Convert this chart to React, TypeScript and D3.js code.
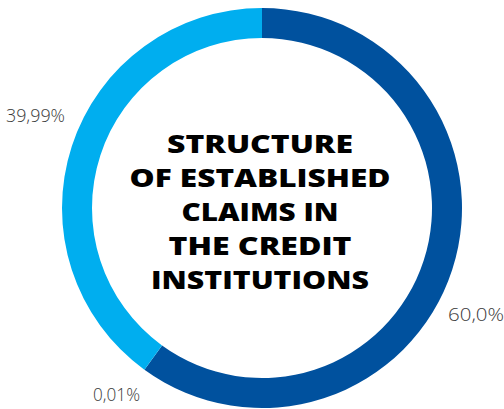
import React from "react";
import * as d3 from "d3";

const categories = ["60,0%", "0,01%", "39,99%"];
const values = [60.0, 0.01, 39.99];
const colors = ["#00519e", "#0a8fd8", "#00aeef"];
const titleLines = ["STRUCTURE", "OF ESTABLISHED", "CLAIMS IN", "THE CREDIT", "INSTITUTIONS"];
const titleWidths = [186, 261, 157, 183, 218];
const labelPos = [
  { x: 448, y: 321, w: 56 },
  { x: 93, y: 401, w: 47 },
  { x: 6, y: 122, w: 59 },
];

export default function App() {
  const W = 504, H = 409;
  const cx = 262, cy = 208;
  const outerR = 200, innerR = 170;
  const pie = d3.pie<number>().sort(null).startAngle(0).endAngle(2 * Math.PI);
  const arcs = pie(values);
  const arc = d3.arc<d3.PieArcDatum<number>>().innerRadius(innerR).outerRadius(outerR);
  return (
    <svg width={W} height={H} style={{ position: "absolute", left: 0, top: 0, background: "#fff" }}>
      <g transform={`translate(${cx},${cy})`}>
        {arcs.map((a, i) => (
          <path key={i} d={arc(a) || ""} fill={colors[i]} />
        ))}
      </g>
      {categories.map((c, i) => (
        <text key={c} x={labelPos[i].x} y={labelPos[i].y} textLength={labelPos[i].w} lengthAdjust="spacingAndGlyphs"
          fontFamily="'Open Sans', sans-serif" fontWeight={300} fontSize={19} fill="#3a3a3a">
          {c}
        </text>
      ))}
      {titleLines.map((t, i) => (
        <text key={t} x={260} y={153 + i * 34} textAnchor="middle" textLength={titleWidths[i]} lengthAdjust="spacingAndGlyphs"
          fontFamily="'Open Sans', sans-serif" fontWeight={800} fontSize={25} fill="#000">
          {t}
        </text>
      ))}
    </svg>
  );
}
